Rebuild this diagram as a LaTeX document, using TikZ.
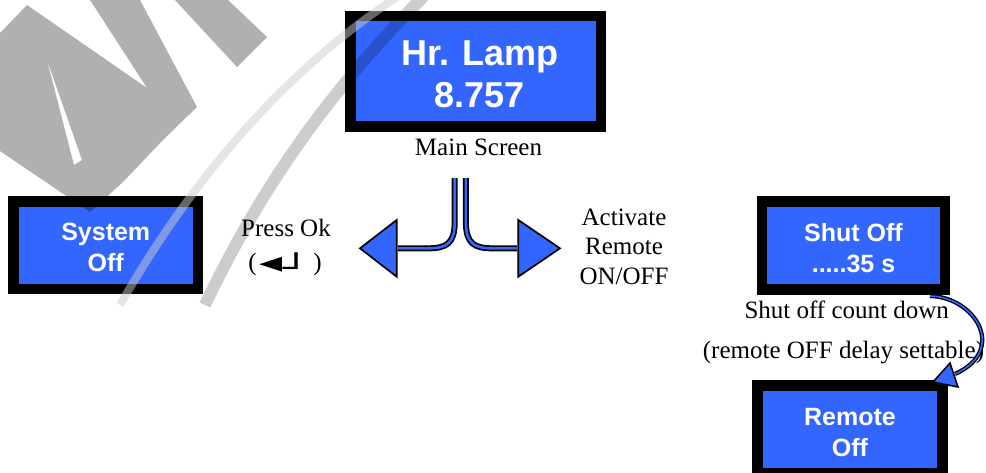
\documentclass[tikz,border=0pt]{standalone}
\usepackage{graphicx}
\usepackage{fontspec}
\setmainfont{Liberation Serif}
\newfontfamily\lcdfont{Liberation Sans}
\newfontfamily\symfont{DejaVu Sans}
\definecolor{scrblue}{RGB}{51,102,255}
\begin{document}
\begin{tikzpicture}[x=1pt,y=-1pt,
  screen/.style={draw=black,line width=10.5pt,fill=scrblue,inner sep=0pt},
  scrtext/.style={text=white,align=center,inner sep=0pt,
    font=\lcdfont\bfseries\fontsize{25}{31}\selectfont},
  lbl/.style={anchor=base,inner sep=0pt,font=\fontsize{25}{30}\selectfont},
  pipe/.style={double=scrblue,double distance=2.6pt,line width=1.7pt},
  thinpipe/.style={double=scrblue,double distance=1.6pt,line width=1.3pt},
  ahead/.style={draw=black,line width=1.7pt,fill=scrblue,line join=miter},
  wmark/.style={black,opacity=0.31}]
\useasboundingbox (0,0) rectangle (986,472);
\clip (0,0) rectangle (986,472);

% screens
\node[screen,minimum width=250.5pt,minimum height=110.5pt] (main) at (475.75,71.25) {};
\node[scrtext,font=\lcdfont\bfseries\fontsize{36}{42}\selectfont] (mainT)
   at ([xshift=4pt,yshift=-3pt]main.center) {Hr. Lamp\\8.757};
\node[screen,minimum width=184.5pt,minimum height=87.5pt] (sys) at (105.75,245.25) {};
\node[scrtext] (sysT) at ([yshift=-2.5pt]sys.center) {System\\Off};
\node[screen,minimum width=183pt,minimum height=88pt] (shut) at (853.5,245.5) {};
\node[scrtext] (shutT) at ([yshift=-3pt]shut.center) {Shut Off\\.....35 s};
\node[screen,minimum width=184.6pt,minimum height=88pt] (rem) at (850,429.7) {};
\node[scrtext] (remT) at ([yshift=-3pt]rem.center) {Remote\\Off};

% labels
\node[lbl] (mainlbl) at (478.5,155) {Main Screen};
\node[lbl] (press1) at (286,236.7) {Press Ok};
\node[lbl] (press2) at (285,270) {(\hspace{3pt}\raisebox{-2pt}{\symfont\fontsize{30}{30}\selectfont ◄}\raisebox{-7pt}{\symfont\fontsize{22}{22}\selectfont\scalebox{2}[1.2]{┘}}\hspace{4pt})};
\node[lbl] (act1) at (624,225) {Activate};
\node[lbl] (act2) at (624,254.5) {Remote};
\node[lbl] (act3) at (624,284) {ON/OFF};
\node[lbl] (cd1) at (846.7,318) {Shut off count down};
\node[lbl] (cd2) at (843.5,358) {(remote OFF delay settable)};

% split arrows
\coordinate (Ltop) at (454.7,178);
\coordinate (Rtop) at (465.9,178);
\coordinate (Lend) at (398,248.3);
\coordinate (Rend) at (517,248.3);
\draw[pipe] (Ltop) -- (454.7,222) .. controls (454.7,244) and (446,248.3) .. (428,248.3) -- (Lend);
\draw[ahead] (396.7,220) -- (360,248.3) -- (396.7,276.7) -- cycle;
\draw[pipe] (Rtop) -- (465.9,222) .. controls (465.9,244) and (474.6,248.3) .. (492.6,248.3) -- (Rend);
\draw[ahead] (518.3,220) -- (560,248.3) -- (518.3,276.7) -- cycle;

% count-down arrow
\coordinate (cstart) at (930,296);
\coordinate (cend) at (955,374);
\draw[thinpipe] (cstart) .. controls (975,297) and (1008,350) .. (cend);
\draw[ahead,line width=1.5pt] (950,363) -- (933,382) -- (958,387) -- cycle;

% watermark
\fill[wmark,even odd rule] (0,33) -- (27,5) -- (147,88) -- (90,0) -- (140,0) -- (197,107) -- (163,140)
   -- (123,182) -- (90,212) -- (0,151) -- cycle
   (47,60) -- (74,165) -- (82,160) -- cycle;
\fill[wmark] (175,0) -- (228,0) -- (267,37) -- (237,67) -- cycle;
\draw[white!80!black,opacity=0.5,line width=8pt] (120,305) .. controls (180,200) and (270,80) .. (400,-5);
\draw[black,opacity=0.2,line width=12pt] (205,305) .. controls (255,200) and (320,100) .. (425,-5);
\end{tikzpicture}
\end{document}
